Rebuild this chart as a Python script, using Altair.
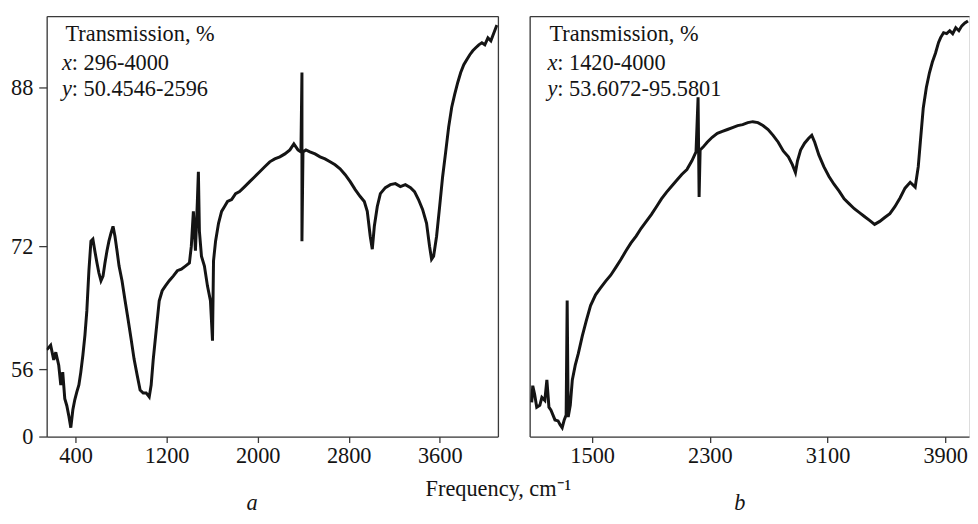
import altair as alt
import pandas as pd

FONT = "Liberation Serif"
INK = "#141414"
FRAME = "#3a3a3a"
FS = 22.5

# ---- panel a: spectrum ----
a_wavenumber = [146, 181, 208, 226, 252, 270, 287, 305, 323, 340, 358, 376, 393, 411, 429, 446, 464, 482, 499, 517,
                535, 552, 570, 588, 605, 623, 641, 658, 676, 693, 711, 729, 746, 764, 782, 808, 835, 861, 888, 914,
                941, 967, 994, 1020, 1047, 1064, 1082, 1108, 1135, 1161, 1188, 1223, 1258, 1294, 1329, 1365, 1400, 1417, 1435, 1453,
                1470, 1479, 1488, 1506, 1532, 1559, 1585, 1603, 1612, 1630, 1656, 1683, 1709, 1735, 1771, 1806, 1841, 1886, 1930, 1974,
                2018, 2062, 2106, 2150, 2195, 2239, 2283, 2318, 2354, 2380, 2389, 2389, 2398, 2424, 2459, 2504, 2548, 2592, 2636, 2680,
                2724, 2769, 2813, 2857, 2901, 2937, 2963, 2989, 3007, 3025, 3051, 3078, 3122, 3166, 3210, 3254, 3298, 3343, 3378, 3413,
                3449, 3484, 3510, 3528, 3546, 3572, 3599, 3625, 3652, 3678, 3705, 3731, 3758, 3784, 3811, 3837, 3864, 3890, 3916, 3943,
                3970, 3996, 4023, 4049, 4075, 4102]
a_transmission = [58.5, 59.1, 57.2, 58.2, 56.5, 42.8, 53.5, 31.4, 25.6, 17.4, 7.4, 22.2, 30.5, 37.1, 42.8, 53.5, 57.8, 60.4, 63.6, 68.8,
                  72.5, 72.7, 71.3, 69.8, 68.5, 67.5, 68.1, 69.8, 71.4, 72.5, 73.3, 74.0, 73.0, 71.4, 69.4, 67.5, 64.9, 62.5, 59.9, 57.3,
                  51.0, 38.7, 36.2, 36.2, 32.9, 42.8, 57.2, 61.0, 64.9, 66.2, 66.8, 67.5, 68.1, 68.8, 69.0, 69.4, 69.8, 72.0, 75.5, 71.4,
                  76.5, 79.5, 73.5, 70.7, 69.4, 66.8, 64.9, 59.7, 70.1, 72.5, 74.3, 75.5, 76.0, 76.5, 76.7, 77.3, 77.5, 78.0, 78.5, 79.0,
                  79.5, 80.0, 80.5, 80.8, 81.0, 81.3, 81.7, 82.3, 81.7, 81.5, 89.5, 72.5, 81.5, 81.7, 81.5, 81.3, 81.0, 80.8, 80.5, 80.2,
                  79.8, 79.2, 78.5, 77.7, 77.0, 76.5, 75.5, 73.0, 71.6, 74.0, 76.0, 77.3, 77.9, 78.2, 78.3, 78.0, 78.2, 77.9, 77.5, 76.7,
                  75.7, 74.3, 72.0, 70.3, 70.7, 73.0, 76.0, 79.0, 81.5, 84.0, 86.0, 87.3, 88.5, 89.5, 90.3, 90.8, 91.3, 91.7, 92.0, 92.3,
                  92.5, 92.3, 93.0, 92.7, 93.5, 94.3]

# ---- panel b: spectrum ----
b_wavenumber = [1089, 1096, 1109, 1123, 1144, 1158, 1178, 1192, 1206, 1220, 1247, 1268, 1282, 1296, 1310, 1323, 1330, 1337, 1351, 1365,
                1385, 1406, 1433, 1461, 1489, 1523, 1557, 1592, 1626, 1661, 1695, 1730, 1764, 1799, 1833, 1868, 1902, 1937, 1971, 2006,
                2040, 2075, 2109, 2144, 2178, 2206, 2220, 2227, 2234, 2254, 2282, 2316, 2351, 2385, 2420, 2454, 2489, 2523, 2558, 2592,
                2627, 2661, 2696, 2730, 2765, 2799, 2834, 2861, 2882, 2896, 2917, 2944, 2972, 2993, 3013, 3041, 3075, 3110, 3144, 3179,
                3213, 3248, 3282, 3317, 3351, 3386, 3420, 3455, 3489, 3524, 3558, 3593, 3627, 3662, 3696, 3717, 3731, 3751, 3772, 3793,
                3813, 3834, 3855, 3869, 3889, 3910, 3931, 3951, 3972, 3993, 4013, 4034, 4055]
b_transmission = [56.5, 58.2, 57.3, 56.0, 56.2, 57.0, 56.7, 58.8, 56.0, 55.7, 54.7, 54.6, 54.2, 53.9, 54.7, 55.2, 66.9, 55.0, 56.2, 58.8,
                  60.3, 61.5, 63.3, 64.9, 66.4, 67.5, 68.2, 68.9, 69.5, 70.3, 71.1, 72.0, 72.8, 73.5, 74.3, 75.0, 75.7, 76.5, 77.3, 78.0,
                  78.6, 79.2, 79.8, 80.3, 81.2, 82.1, 87.7, 77.5, 82.3, 82.6, 83.1, 83.6, 84.0, 84.2, 84.4, 84.6, 84.8, 84.9, 85.1, 85.2,
                  85.1, 84.8, 84.4, 83.8, 83.1, 82.2, 81.6, 80.8, 80.0, 81.2, 82.3, 83.0, 83.5, 83.8, 83.1, 81.8, 80.6, 79.6, 78.8, 78.1,
                  77.3, 76.8, 76.3, 75.9, 75.5, 75.1, 74.7, 75.0, 75.4, 75.8, 76.5, 77.4, 78.4, 79.0, 78.5, 80.6, 83.1, 86.6, 88.7, 90.2,
                  91.3, 92.2, 93.3, 93.8, 94.3, 94.2, 94.5, 94.2, 94.8, 94.5, 95.0, 95.3, 95.5]

a_xticks = [400, 1200, 2000, 2800, 3600]
a_yticks = [0, 56, 72, 88]
b_xticks = [1500, 2300, 3100, 3900]

a_info = ["Transmission, %", ": 296-4000", ": 50.4546-2596"]
b_info = ["Transmission, %", ": 1420-4000", ": 53.6072-95.5801"]
x_title = "Frequency, cm\u207b\u00b9"

a_df = pd.DataFrame({"wn": a_wavenumber, "tr": a_transmission, "i": list(range(len(a_wavenumber)))})
b_df = pd.DataFrame({"wn": b_wavenumber, "tr": b_transmission, "i": list(range(len(b_wavenumber)))})

W_A, W_B, H = 455, 443, 424

axis_style = dict(labelFont=FONT, labelFontSize=FS, labelColor=INK, tickColor=FRAME,
                  domainColor=FRAME, domainWidth=1.3, tickWidth=1.3, grid=False, format="d")
frame_style = dict(labels=False, ticks=False, domain=True, domainColor=FRAME, domainWidth=1.3, grid=False)

a_xscale = alt.Scale(domain=[146, 4111], nice=False, zero=False)
a_yscale = alt.Scale(domain=[0, 56, 72, 88, 95.2], range=[424, 356, 232, 72, 0], nice=False, zero=False)
b_xscale = alt.Scale(domain=[1075, 4062], nice=False, zero=False)
b_yscale = alt.Scale(domain=[53, 96], nice=False, zero=False)


def label(txt, x, y, italic=False, align="left"):
    return alt.Chart(pd.DataFrame({"t": [txt]})).mark_text(
        font=FONT, fontSize=FS, fontStyle="italic" if italic else "normal",
        align=align, baseline="alphabetic", color=INK
    ).encode(text="t:N", x=alt.value(x), y=alt.value(y))


def info_block(lines, x0, xi, xr):
    return [
        label(lines[0], x0, 25),
        label("x", xi, 54, italic=True),
        label(lines[1], xr, 54),
        label("y", xi, 81, italic=True),
        label(lines[2], xr, 81),
    ]


line_a = alt.Chart(a_df).mark_line(color=INK, strokeWidth=3, clip=True).encode(
    x=alt.X("wn:Q", scale=a_xscale,
            axis=alt.Axis(values=a_xticks, title=None, tickSize=6, labelPadding=2, **axis_style)),
    y=alt.Y("tr:Q", scale=a_yscale,
            axis=alt.Axis(values=a_yticks, title=None, tickSize=8, labelPadding=6, **axis_style)),
    order="i:Q",
)
frame_a = alt.Chart(a_df).mark_line(strokeOpacity=0).encode(
    x=alt.X("wn:Q", scale=a_xscale, axis=alt.Axis(orient="top", title=None, **frame_style)),
    y=alt.Y("tr:Q", scale=a_yscale, axis=alt.Axis(orient="right", title=None, **frame_style)),
)
panel_a = alt.layer(
    line_a, frame_a,
    *info_block(a_info, 19, 15.5, 25.3),
    label(x_title, 455.5, 484, align="center"),
    label("a", 207, 498, italic=True, align="center"),
).resolve_axis(x="independent", y="independent").properties(width=W_A, height=H)

line_b = alt.Chart(b_df).mark_line(color=INK, strokeWidth=3, clip=True).encode(
    x=alt.X("wn:Q", scale=b_xscale,
            axis=alt.Axis(values=b_xticks, title=None, tickSize=6, labelPadding=2, **axis_style)),
    y=alt.Y("tr:Q", scale=b_yscale, axis=alt.Axis(title=None, **frame_style)),
    order="i:Q",
)
frame_b = alt.Chart(b_df).mark_line(strokeOpacity=0).encode(
    x=alt.X("wn:Q", scale=b_xscale, axis=alt.Axis(orient="top", title=None, **frame_style)),
    y=alt.Y("tr:Q", scale=b_yscale, axis=None),
)
panel_b = alt.layer(
    line_b, frame_b,
    *info_block(b_info, 20, 18, 27.8),
    label("b", 212, 498, italic=True, align="center"),
).resolve_axis(x="independent", y="independent").properties(width=W_B, height=H)

chart = alt.hconcat(panel_a, panel_b, spacing=32, bounds="flush").properties(
    padding={"left": 2, "top": 5, "right": 0, "bottom": 0}
).configure_view(stroke="transparent").configure(font=FONT)

chart.save("out.html", embed_options={"renderer": "svg", "actions": False})
